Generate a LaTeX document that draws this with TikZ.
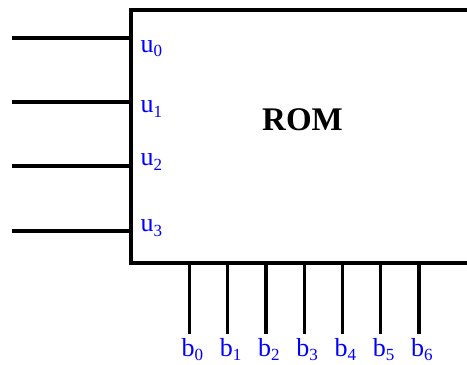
\documentclass[tikz,border=0pt]{standalone}
\usepackage{fontspec}
\setmainfont{Liberation Serif}
% lowered index for the pin names u0 ... b6
\newcommand{\idx}[1]{\raisebox{-4.5pt}{\fontsize{17}{17}\selectfont #1}}
\begin{document}
\begin{tikzpicture}[x=1pt,y=-1pt,
  wire/.style={line width=3.3pt},
  block/.style={draw, line width=3.3pt, rectangle, inner sep=0pt, outer sep=0pt},
  pinlabel/.style={anchor=base west, inner sep=0pt, text=blue, font=\fontsize{26}{26}\selectfont},
  title/.style={anchor=base west, inner sep=0pt, font=\fontsize{33}{33}\selectfont\bfseries},
]
\useasboundingbox (0,0) rectangle (467,365);
\clip (0,0) rectangle (467,365);

% the ROM block, running past the right edge
\node[block, minimum width=389pt, minimum height=253pt] (rom) at (325.5,136.5) {};
\node[title] (name) at (262,130) {ROM};

% address inputs
\foreach \i/\y/\b in {0/38/52, 1/102/112.5, 2/166/165.5, 3/231/231.5} {
  \coordinate (in\i) at (12,\y);
  \draw[wire] (in\i) -- (in\i -| rom.west);
  \node[pinlabel] (u\i) at (140.5,\b) {u\idx{\i}};
}

% data outputs
\foreach \i in {0,...,6} {
  \pgfmathsetmacro{\xx}{189.5+38.25*\i}
  \coordinate (out\i) at (\xx,334);
  \draw[wire] (rom.south -| out\i) -- (out\i);
  \node[pinlabel] (b\i) at (\xx-8,356) {b\idx{\i}};
}
\end{tikzpicture}
\end{document}
